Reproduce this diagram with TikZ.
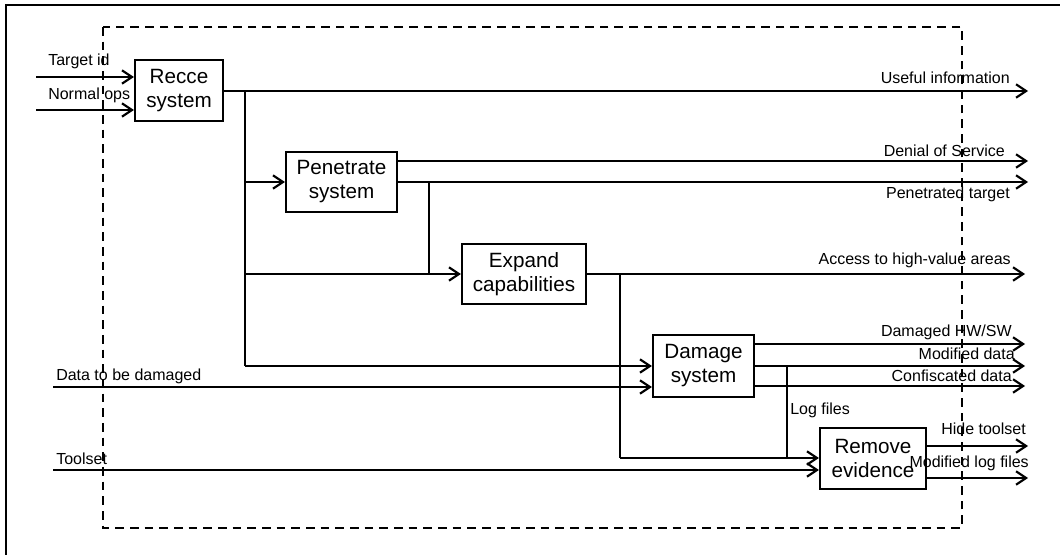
\documentclass[tikz,border=0pt]{standalone}
\usepackage{fontspec}
\setmainfont{Liberation Sans}
\usetikzlibrary{arrows.meta}
\begin{document}
\begin{tikzpicture}[x=0.75pt,y=-0.75pt,
  conn/.style={line width=1.6pt},
  arr/.style={conn,-{Straight Barb[length=7.5pt,width=10pt,line width=1.6pt]}},
  box/.style={draw,line width=1.6pt,inner sep=0pt,align=center,fill=white,font=\fontsize{15.5}{18}\selectfont},
  lab/.style={inner sep=0pt,font=\fontsize{12}{14}\selectfont}]
\useasboundingbox (0,0) rectangle (1060,555);
\draw[line width=1.6pt] (6,555) -- (6,5) -- (1060,5);
\draw[line width=1.8pt, dash pattern=on 6.5pt off 4.5pt] (103,27) rectangle (962,528);

% boxes
\node[box,minimum width=66pt,minimum height=45.75pt] (recce) at (179,90.5) {Recce\\system};
\node[box,minimum width=83.25pt,minimum height=45pt] (pen) at (341.5,182) {Penetrate\\system};
\node[box,minimum width=93pt,minimum height=45pt] (exp) at (524,274) {Expand\\capabilities};
\node[box,minimum width=75.75pt,minimum height=46.5pt] (dmg) at (703.5,366) {Damage\\system};
\node[box,minimum width=79.5pt,minimum height=45.75pt] (rem) at (873,458.5) {Remove\\evidence};

% free ends and junctions
\coordinate (ti) at (36,77);
\coordinate (no) at (36,110);
\coordinate (uo) at (1028,91);
\coordinate (b) at (245,91);
\coordinate (bp) at (245,182);
\coordinate (be) at (245,274);
\coordinate (bd) at (245,366);
\coordinate (dos) at (1028,161);
\coordinate (pt) at (1028,182);
\coordinate (pv) at (429,182);
\coordinate (ac) at (1025,274);
\coordinate (ev) at (620,274);
\coordinate (evb) at (620,458);
\coordinate (dtd) at (53,387);
\coordinate (ts) at (53,470);
\coordinate (dh) at (1025,344);
\coordinate (md) at (1025,366);
\coordinate (cd) at (1025,386);
\coordinate (lf) at (787,366);
\coordinate (ht) at (1028,446);
\coordinate (ml) at (1028,478);

% connectors
\draw[arr] (ti) -- (ti -| recce.west);
\draw[arr] (no) -- (no -| recce.west);
\draw[arr] (recce.east |- uo) -- (uo);
\draw[conn] (b) -- (bd);
\draw[arr] (bp) -- (pen.west);
\draw[arr] (be) -- (exp.west);
\draw[arr] (bd) -- (bd -| dmg.west);
\draw[arr] (pen.east |- dos) -- (dos);
\draw[arr] (pen.east) -- (pt);
\draw[conn] (pv) -- (pv |- exp.west);
\draw[arr] (exp.east) -- (ac);
\draw[conn] (ev) -- (evb);
\draw[arr] (evb) -- (evb -| rem.west);
\draw[arr] (dtd) -- (dtd -| dmg.west);
\draw[arr] (ts) -- (ts -| rem.west);
\draw[arr] (dmg.east |- dh) -- (dh);
\draw[arr] (dmg.east) -- (md);
\draw[arr] (dmg.east |- cd) -- (cd);
\draw[conn] (lf) -- (lf |- evb);
\draw[arr] (rem.east |- ht) -- (ht);
\draw[arr] (rem.east |- ml) -- (ml);

% labels
\node[lab,anchor=west] (lti) at (48,61) {Target id};
\node[lab,anchor=west] (lno) at (48,95) {Normal ops};
\node[lab,anchor=east] (luo) at (1010,78) {Useful information};
\node[lab,anchor=east] (ldos) at (1005,151) {Denial of Service};
\node[lab,anchor=east] (lpt) at (1010,194) {Penetrated target};
\node[lab,anchor=east] (lac) at (1011,260) {Access to high-value areas};
\node[lab,anchor=east] (ldh) at (1012,332) {Damaged HW/SW};
\node[lab,anchor=east] (lmd) at (1015,354) {Modified data};
\node[lab,anchor=east] (lcd) at (1012,376) {Confiscated data};
\node[lab,anchor=west] (llf) at (790,410) {Log files};
\node[lab,anchor=east] (lht) at (1026,429) {Hide toolset};
\node[lab,anchor=east] (lml) at (1029,463) {Modified log files};
\node[lab,anchor=west] (ldtd) at (56,376) {Data to be damaged};
\node[lab,anchor=west] (lts) at (56,459) {Toolset};
\end{tikzpicture}
\end{document}
